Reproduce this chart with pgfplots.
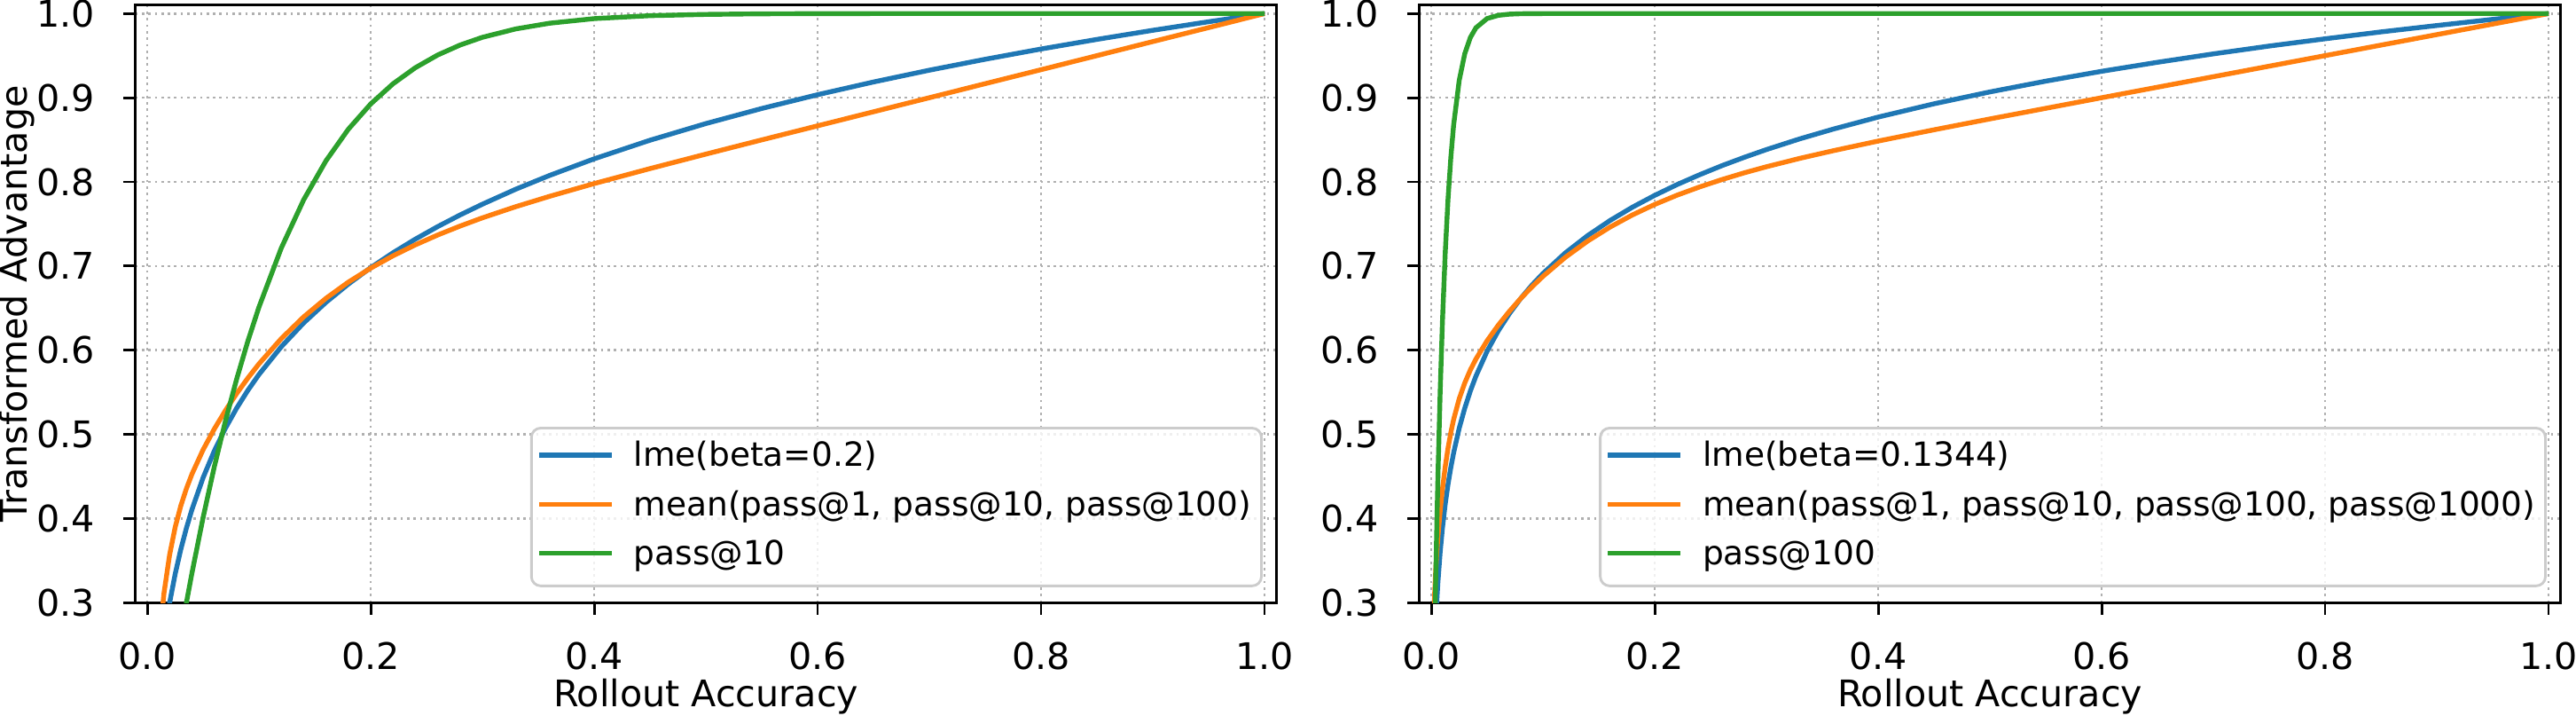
\documentclass[border=0pt]{standalone}
\usepackage{fontspec}
\setmainfont{DejaVu Sans}
\usepackage{pgfplots}
\usepackage{pgfplotstable}
\pgfplotsset{compat=1.18}

\definecolor{tabblue}{HTML}{1F77B4}
\definecolor{taborange}{HTML}{FF7F0E}
\definecolor{tabgreen}{HTML}{2CA02C}
\definecolor{gridgray}{HTML}{B0B0B0}
\definecolor{framegray}{HTML}{CCCCCC}

% p = rollout accuracy; lme, mean and pass are the transformed advantages
\pgfplotstableread{
p      lme     mean    pass
0      0       0       0
0.005  0.1279  0.1494  0.0489
0.01   0.2037  0.2465  0.0956
0.015  0.2577  0.3116  0.1403
0.02   0.2997  0.3568  0.1829
0.025  0.3341  0.3897  0.2237
0.03   0.3632  0.4150  0.2626
0.035  0.3884  0.4354  0.2997
0.04   0.4107  0.4528  0.3352
0.05   0.4486  0.4818  0.4013
0.06   0.4803  0.5064  0.4614
0.07   0.5074  0.5284  0.5160
0.08   0.5311  0.5485  0.5656
0.09   0.5522  0.5668  0.6106
0.10   0.5712  0.5838  0.6513
0.12   0.6042  0.6138  0.7215
0.14   0.6324  0.6396  0.7787
0.16   0.6569  0.6617  0.8251
0.18   0.6786  0.6809  0.8626
0.20   0.6981  0.6975  0.8926
0.22   0.7158  0.7122  0.9166
0.24   0.7320  0.7252  0.9357
0.26   0.7469  0.7369  0.9508
0.28   0.7607  0.7475  0.9626
0.30   0.7735  0.7573  0.9718
0.33   0.7914  0.7706  0.9818
0.36   0.8076  0.7828  0.9885
0.40   0.8274  0.7980  0.9940
0.45   0.8495  0.8158  0.9975
0.50   0.8693  0.8330  0.9990
0.55   0.8872  0.8499  0.9997
0.60   0.9036  0.8666  0.9999
0.65   0.9187  0.8833  1.0000
0.70   0.9327  0.9000  1.0000
0.75   0.9457  0.9167  1.0000
0.80   0.9579  0.9333  1.0000
0.85   0.9693  0.9500  1.0000
0.90   0.9801  0.9667  1.0000
0.95   0.9903  0.9833  1.0000
1.00   1.0000  1.0000  1.0000
}\leftdata

\pgfplotstableread{
p       lme     mean    pass
0       0       0       0
0.0005  0.0828  0.1120  0.0488
0.001   0.1336  0.1846  0.0952
0.002   0.1993  0.2670  0.1814
0.003   0.2432  0.3106  0.2596
0.004   0.2763  0.3388  0.3302
0.005   0.3028  0.3603  0.3942
0.006   0.3249  0.3786  0.4522
0.008   0.3605  0.4092  0.5521
0.01    0.3887  0.4349  0.6340
0.0125  0.4172  0.4616  0.7157
0.015   0.4407  0.4837  0.7794
0.0175  0.4606  0.5021  0.8289
0.02    0.4780  0.5176  0.8674
0.025   0.5073  0.5423  0.9205
0.03    0.5312  0.5612  0.9524
0.035   0.5516  0.5766  0.9716
0.04    0.5693  0.5896  0.9831
0.05    0.5989  0.6113  0.9941
0.06    0.6231  0.6298  0.9979
0.07    0.6436  0.6463  0.9993
0.08    0.6614  0.6614  0.9998
0.09    0.6772  0.6751  0.9999
0.10    0.6912  0.6878  1.0000
0.12    0.7156  0.7104  1.0000
0.14    0.7362  0.7297  1.0000
0.16    0.7541  0.7463  1.0000
0.18    0.7699  0.7607  1.0000
0.20    0.7840  0.7732  1.0000
0.22    0.7968  0.7842  1.0000
0.24    0.8084  0.7939  1.0000
0.26    0.8192  0.8027  1.0000
0.28    0.8291  0.8107  1.0000
0.30    0.8384  0.8180  1.0000
0.33    0.8512  0.8280  1.0000
0.36    0.8628  0.8371  1.0000
0.40    0.8770  0.8485  1.0000
0.45    0.8928  0.8619  1.0000
0.50    0.9069  0.8748  1.0000
0.55    0.9197  0.8874  1.0000
0.60    0.9314  0.9000  1.0000
0.65    0.9421  0.9125  1.0000
0.70    0.9521  0.9250  1.0000
0.75    0.9614  0.9375  1.0000
0.80    0.9700  0.9500  1.0000
0.85    0.9782  0.9625  1.0000
0.90    0.9858  0.9750  1.0000
0.95    0.9931  0.9875  1.0000
1.00    1.0000  1.0000  1.0000
}\rightdata

\pgfplotsset{
  advpanel/.style={
    scale only axis,
    width=308.8pt, height=161.6pt,
    xmin=-0.0106, xmax=1.0106,
    ymin=0.3, ymax=1.0098,
    xtick={0,0.2,0.4,0.6,0.8,1.0},
    xticklabels={0.0,0.2,0.4,0.6,0.8,1.0},
    ytick={0.3,0.4,0.5,0.6,0.7,0.8,0.9,1.0},
    yticklabels={0.3,0.4,0.5,0.6,0.7,0.8,0.9,1.0},
    tick pos=left,
    tick align=outside,
    major tick length=3.2pt,
    every tick/.style={black, line width=0.7pt},
    axis line style={line width=0.72pt},
    grid=major,
    major grid style={color=gridgray, line width=0.65pt, dash pattern=on 0.65pt off 1.1pt},
    tick label style={font=\fontsize{9.9}{11}\selectfont, inner sep=0pt},
    xticklabel style={anchor=north, yshift=-7.37pt},
    yticklabel style={anchor=east, xshift=-7.6pt},
    label style={font=\fontsize{9.9}{11}\selectfont, inner sep=0pt},
    xlabel style={at={(axis description cs:0.5,-0.1742)}, anchor=base},
    ylabel style={at={(axis description cs:-0.0952,0.5)}, anchor=base, rotate=0},
    legend cell align=left,
    legend image code/.code={
      \path (0pt,-3pt) (23.7pt,3pt);
      \draw[##1, line width=1.3pt] (0pt,0.77pt) -- (19.7pt,0.77pt);
    },
    legend style={
      at={(axis description cs:0.98802,0.02599)}, anchor=south east,
      draw=framegray, line width=0.7pt, rounded corners=2.5pt,
      fill=white, fill opacity=0.8, text opacity=1,
      font=\fontsize{9}{11}\selectfont,
      inner xsep=1.4pt, inner ysep=2.24pt,
      row sep=1.7pt,
      nodes={inner sep=1.3pt, text height=6.84pt, text depth=2.16pt},
    },
    every axis plot/.append style={line width=1.3pt},
  },
}

\begin{document}
\begin{tikzpicture}
\path[use as bounding box] (0pt,0pt) rectangle (697.2pt,193.44pt);

% beta = 0.2 panel
\begin{axis}[advpanel, at={(36.65pt,30.41pt)}, anchor=south west,
  xlabel={Rollout Accuracy}, ylabel={Transformed Advantage}]
\addplot[tabblue] table[x=p, y=lme] {\leftdata};
\addlegendentry{lme(beta=0.2)}
\addplot[taborange] table[x=p, y=mean] {\leftdata};
\addlegendentry{mean(pass@1, pass@10, pass@100)}
\addplot[tabgreen] table[x=p, y=pass] {\leftdata};
\addlegendentry{pass@10}
\end{axis}

% beta = 0.1344 panel
\begin{axis}[advpanel, at={(384.17pt,30.41pt)}, anchor=south west,
  xlabel={Rollout Accuracy}]
\addplot[tabblue] table[x=p, y=lme] {\rightdata};
\addlegendentry{lme(beta=0.1344)}
\addplot[taborange] table[x=p, y=mean] {\rightdata};
\addlegendentry{mean(pass@1, pass@10, pass@100, pass@1000)}
\addplot[tabgreen] table[x=p, y=pass] {\rightdata};
\addlegendentry{pass@100}
\end{axis}
\end{tikzpicture}
\end{document}
